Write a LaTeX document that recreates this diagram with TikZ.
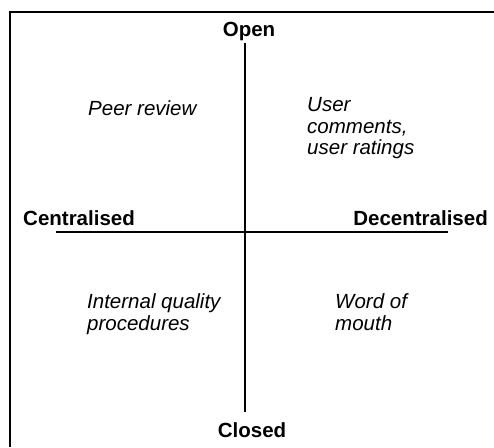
\documentclass[tikz,border=0pt]{standalone}
\usepackage{fontspec}
\setmainfont{Liberation Sans}
\begin{document}
\begin{tikzpicture}[x=1pt,y=-1pt,
  axislabel/.style={font=\fontsize{20.5}{21.5}\selectfont\bfseries, inner sep=0pt},
  quadtext/.style={font=\fontsize{20.5}{21.5}\selectfont\itshape, inner sep=0pt, align=left, anchor=base west},
  axisline/.style={line width=1.5pt},
  frameline/.style={line width=1.5pt}]
\useasboundingbox (0,0) rectangle (494,447);
% frame
\coordinate (fbl) at (10,447);
\coordinate (ftl) at (10,12);
\coordinate (ftr) at (494,12);
\draw[frameline] (fbl) -- (ftl) -- (ftr);
% axes
\coordinate (vt) at (245,43);
\coordinate (vb) at (245,412);
\coordinate (hl) at (56,232);
\coordinate (hr) at (448,232);
\draw[axisline] (vt) -- (vb);
\draw[axisline] (hl) -- (hr);
% axis labels
\node[axislabel, anchor=base] (open) at (249,36) {Open};
\node[axislabel, anchor=base] (closed) at (252,437) {Closed};
\node[axislabel, anchor=base west] (cent) at (23,225) {Centralised};
\node[axislabel, anchor=base east] (decent) at (488,225) {Decentralised};
% quadrant texts (base anchor = last line)
\node[quadtext] (peer) at (88,115) {Peer review};
\node[quadtext] (user) at (307,154.5) {User\\comments,\\user ratings};
\node[quadtext] (internal) at (87,330) {Internal quality\\procedures};
\node[quadtext] (word) at (335,330) {Word of\\mouth};
\end{tikzpicture}
\end{document}
